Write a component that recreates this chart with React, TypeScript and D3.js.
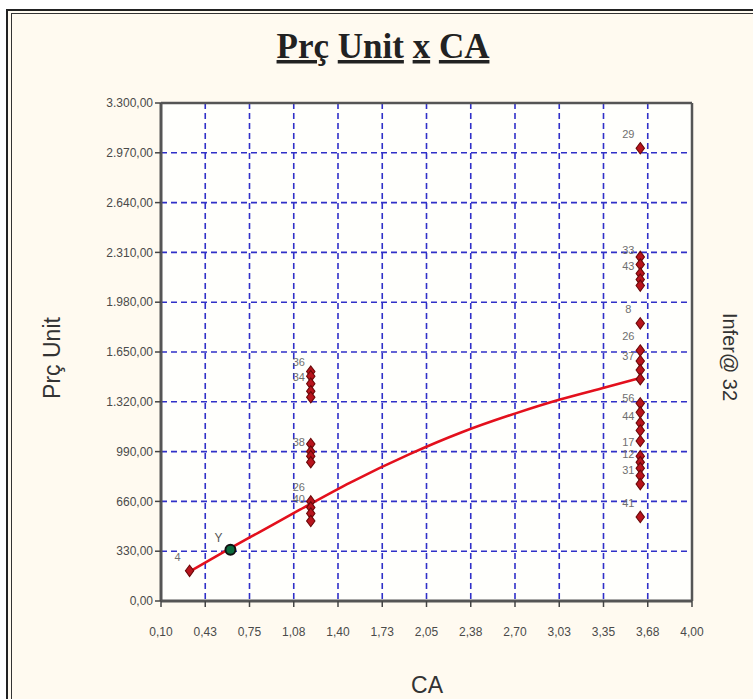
import React from "react";
import * as d3 from "d3";

// Axis ticks
const xTickLabels = ["0,10", "0,43", "0,75", "1,08", "1,40", "1,73", "2,05", "2,38", "2,70", "3,03", "3,35", "3,68", "4,00"];
const yTickValues = [0, 330, 660, 990, 1320, 1650, 1980, 2310, 2640, 2970, 3300];

// Observations: CA, unit price, point label
const pointX = [
  0.31,
  1.2, 1.2, 1.2, 1.2, 1.2, 1.2, 1.2, 1.2, 1.2, 1.2, 1.2, 1.2, 1.2,
  3.62, 3.62, 3.62, 3.62, 3.62, 3.62, 3.62, 3.62, 3.62, 3.62, 3.62,
  3.62, 3.62, 3.62, 3.62, 3.62, 3.62, 3.62, 3.62, 3.62, 3.62, 3.62,
];
const pointY = [
  200,
  1520, 1490, 1440, 1390, 1350, 1040, 990, 960, 920, 660, 620, 580, 530,
  3000, 2280, 2230, 2170, 2130, 2090, 1840, 1660, 1590, 1530, 1470,
  1310, 1250, 1180, 1130, 1060, 960, 920, 880, 830, 775, 557,
];
const pointLabels = [
  "4",
  "", "36", "", "34", "", "", "", "38", "", "26", "", "40", "",
  "29", "", "33", "", "43", "", "8", "26", "", "37", "",
  "", "56", "", "44", "", "17", "", "12", "", "31", "41",
];

// Highlighted observation
const highlightX = 0.61;
const highlightY = 340;
const highlightLabel = "Y";

// Fitted trend curve
const trendX = [0.30, 0.61, 0.83, 1.12, 1.49, 1.93, 2.30, 2.71, 3.03, 3.36, 3.62];
const trendY = [190, 350, 460, 605, 785, 975, 1115, 1245, 1335, 1415, 1478];

const W = 753;
const H = 699;
const plot = { left: 161, right: 692, top: 103, bottom: 601 };

const ptLocale = d3.formatLocale({ decimal: ",", thousands: ".", grouping: [3], currency: ["", ""] });
const fmtY = ptLocale.format(",.2f");

export default function App() {
  const x = d3.scaleLinear().domain([0.1, 4.0]).range([plot.left, plot.right]);
  const y = d3.scaleLinear().domain([0, 3300]).range([plot.bottom, plot.top]);
  const xTickValues = d3.range(xTickLabels.length).map((i) => 0.1 + (i * 3.9) / (xTickLabels.length - 1));

  const line = d3
    .line<number>()
    .x((_, i) => x(trendX[i]))
    .y((d) => y(d))
    .curve(d3.curveMonotoneX);

  const diamond = d3.symbol().type(d3.symbolDiamond).size(46)();

  const tickFont = "'Liberation Sans', Arial, sans-serif";
  const grid = "#3030c8";

  return (
    <div style={{ position: "fixed", left: 0, top: 0 }}>
      <svg width={W} height={H} style={{ display: "block", background: "#ffffff" }}>
        {/* frame */}
        <rect x={7} y={10} width={W + 10} height={H + 10} fill="#fffaf0" stroke="#222" strokeWidth={2} />
        <rect x={11.5} y={13.5} width={W + 10} height={H + 10} fill="none" stroke="#333" strokeWidth={1} />

        {/* title */}
        <text
          x={383}
          y={58}
          textAnchor="middle"
          fontFamily="'Liberation Serif', 'Times New Roman', serif"
          fontWeight="bold"
          fontSize={35}
          fill="#222"
        >
          <tspan style={{ textDecoration: "underline" }}>Prç</tspan>
          <tspan> </tspan>
          <tspan style={{ textDecoration: "underline" }}>Unit</tspan>
          <tspan> </tspan>
          <tspan style={{ textDecoration: "underline" }}>x</tspan>
          <tspan> </tspan>
          <tspan style={{ textDecoration: "underline" }}>CA</tspan>
        </text>

        {/* plot area */}
        <rect
          x={plot.left}
          y={plot.top}
          width={plot.right - plot.left}
          height={plot.bottom - plot.top}
          fill="#fffffc"
        />

        {/* grid */}
        {yTickValues.slice(1, -1).map((v) => (
          <line
            key={"gy" + v}
            x1={plot.left}
            x2={plot.right}
            y1={y(v)}
            y2={y(v)}
            stroke={grid}
            strokeWidth={1.6}
            strokeDasharray="6 4"
          />
        ))}
        {xTickValues.slice(1, -1).map((v, i) => (
          <line
            key={"gx" + i}
            x1={x(v)}
            x2={x(v)}
            y1={plot.top}
            y2={plot.bottom}
            stroke={grid}
            strokeWidth={1.6}
            strokeDasharray="6 4"
          />
        ))}

        {/* axes border */}
        <line x1={plot.left} x2={plot.right} y1={plot.top} y2={plot.top} stroke="#555" strokeWidth={2.5} />
        <line x1={plot.right} x2={plot.right} y1={plot.top} y2={plot.bottom} stroke="#555" strokeWidth={2.5} />
        <line x1={plot.left} x2={plot.left} y1={plot.top} y2={plot.bottom} stroke="#555" strokeWidth={3} />
        <line x1={plot.left} x2={plot.right} y1={plot.bottom} y2={plot.bottom} stroke="#555" strokeWidth={3} />

        {/* y ticks */}
        {yTickValues.map((v) => (
          <g key={"ty" + v}>
            <line x1={plot.left - 6} x2={plot.left} y1={y(v)} y2={y(v)} stroke="#444" strokeWidth={1.5} />
            <text
              x={plot.left - 8}
              y={y(v)}
              dy="0.35em"
              textAnchor="end"
              fontFamily={tickFont}
              fontSize={12}
              fill="#4a4a4a"
            >
              {fmtY(v)}
            </text>
          </g>
        ))}

        {/* x ticks */}
        {xTickValues.map((v, i) => (
          <g key={"tx" + i}>
            <line x1={x(v)} x2={x(v)} y1={plot.bottom} y2={plot.bottom + 6} stroke="#444" strokeWidth={1.5} />
            <text x={x(v)} y={636} textAnchor="middle" fontFamily={tickFont} fontSize={12} fill="#4a4a4a">
              {xTickLabels[i]}
            </text>
          </g>
        ))}

        {/* trend */}
        <path d={line(trendY) || ""} fill="none" stroke="#e3101c" strokeWidth={2.6} />

        {/* observations */}
        {pointY.map((v, i) => (
          <path
            key={"p" + i}
            d={diamond || ""}
            transform={`translate(${x(pointX[i])},${y(v)}) scale(1.15,0.9)`}
            fill="#b8141c"
            stroke="#6a0808"
            strokeWidth={1}
          />
        ))}
        {pointY.map((v, i) =>
          pointLabels[i] ? (
            <text
              key={"l" + i}
              x={x(pointX[i]) - 12}
              y={y(v) - 10}
              textAnchor="middle"
              fontFamily={tickFont}
              fontSize={11}
              fill="#6f6f6f"
            >
              {pointLabels[i]}
            </text>
          ) : null
        )}

        {/* highlighted point */}
        <circle cx={x(highlightX)} cy={y(highlightY)} r={5} fill="#0d6b3d" stroke="#111" strokeWidth={2} />
        <text
          x={x(highlightX) - 12}
          y={y(highlightY) - 8}
          textAnchor="middle"
          fontFamily={tickFont}
          fontSize={12}
          fill="#555"
        >
          {highlightLabel}
        </text>

        {/* axis titles */}
        <text x={427} y={693} textAnchor="middle" fontFamily={tickFont} fontSize={23} fill="#333">
          CA
        </text>
        <text
          transform={`translate(60,${(plot.top + plot.bottom) / 2 + 6}) rotate(-90)`}
          textAnchor="middle"
          fontFamily={tickFont}
          fontSize={23}
          fill="#333"
        >
          Prç Unit
        </text>
        <text
          transform={`translate(723,${(plot.top + plot.bottom) / 2 + 5}) rotate(90)`}
          textAnchor="middle"
          fontFamily={tickFont}
          fontSize={20}
          fill="#333"
        >
          Infer@ 32
        </text>
      </svg>
    </div>
  );
}
